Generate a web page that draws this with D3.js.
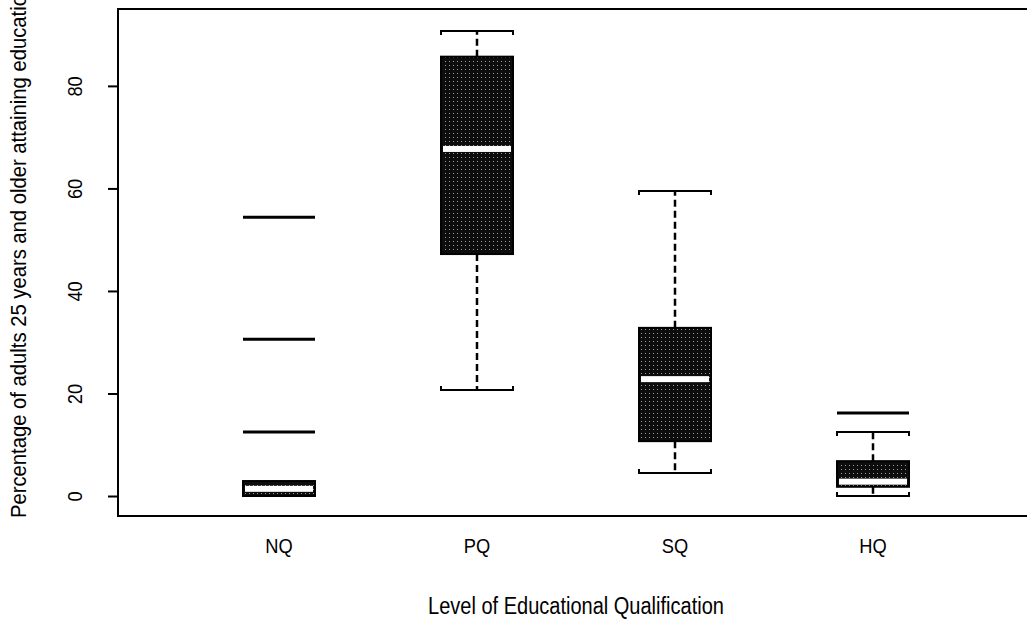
<!DOCTYPE html>
<html>
<head>
<meta charset="utf-8">
<script src="https://cdn.jsdelivr.net/npm/d3@7"></script>
<style>
  body { margin: 0; background: #fff; }
  svg { display: block; }
  text { font-family: "Liberation Sans Narrow", "Arial Narrow", "Liberation Sans", Arial, sans-serif; fill: #000; }
</style>
</head>
<body>
<div id="chart"></div>
<script>
// box statistics (percent)
const categories = ["NQ", "PQ", "SQ", "HQ"];
const lowWhisker = [0, 20.7, 4.5, 0];
const q1 = [0, 47.2, 10.7, 1.8];
const median = [1.4, 67.7, 22.8, 2.8];
const q3 = [2.9, 85.7, 32.8, 6.8];
const highWhisker = [2.9, 90.7, 59.5, 12.5];
const outliers = [[12.5, 30.6, 54.4], [], [], [16.2]];
const yTicks = [0, 20, 40, 60, 80];

const xTitle = "Level of Educational Qualification";
const yTitle = "Percentage of adults 25 years and older attaining education";

const config = {
  width: 1027,
  height: 621,
  frame: { left: 118, top: 9, right: 1045, bottom: 516 },
  boxWidth: 72,
  narrow: 0.87,   // squeeze text, the scan uses a condensed face
  container: d3.select("#chart").append("svg")
};

config.container
  .attr("width", config.width)
  .attr("height", config.height);

const svg = config.container;

const x = d3.scalePoint()
  .domain(categories)
  .range([279, 873]);

const y = d3.scaleLinear()
  .domain([-3.9, 95])
  .range([config.frame.bottom, config.frame.top]);

// dark stippled fill like the scanned boxes
const pat = svg.append("defs").append("pattern")
  .attr("id", "stipple")
  .attr("patternUnits", "userSpaceOnUse")
  .attr("width", 4)
  .attr("height", 4);
pat.append("rect").attr("width", 4).attr("height", 4).attr("fill", "#0d0d0d");
pat.append("rect").attr("x", 1).attr("y", 1).attr("width", 1).attr("height", 1).attr("fill", "#9a9a9a");

const boxes = categories.map((c, i) => ({
  cat: c,
  lo: lowWhisker[i],
  q1: q1[i],
  med: median[i],
  q3: q3[i],
  hi: highWhisker[i],
  out: outliers[i]
}));

const half = config.boxWidth / 2;
const g = svg.append("g");

// whiskers
g.selectAll(".whiskerUp")
  .data(boxes.filter(d => d.hi > d.q3))
  .enter()
  .append("line")
  .attr("x1", d => x(d.cat)).attr("x2", d => x(d.cat))
  .attr("y1", d => y(d.q3)).attr("y2", d => y(d.hi))
  .attr("stroke", "#000").attr("stroke-width", 2.5)
  .attr("stroke-dasharray", "7,4");

g.selectAll(".whiskerDown")
  .data(boxes.filter(d => d.lo < d.q1))
  .enter()
  .append("line")
  .attr("x1", d => x(d.cat)).attr("x2", d => x(d.cat))
  .attr("y1", d => y(d.q1)).attr("y2", d => y(d.lo))
  .attr("stroke", "#000").attr("stroke-width", 2.5)
  .attr("stroke-dasharray", "7,4");

// caps, drawn as small brackets
function capPath(d, v, dir) {
  const cx = x(d.cat), cy = y(v);
  return `M${cx - half},${cy + dir * 4}V${cy}H${cx + half}V${cy + dir * 4}`;
}
g.selectAll(".capUp")
  .data(boxes)
  .enter()
  .append("path")
  .attr("d", d => capPath(d, d.hi, 1))
  .attr("fill", "none").attr("stroke", "#000").attr("stroke-width", 2);
g.selectAll(".capDown")
  .data(boxes)
  .enter()
  .append("path")
  .attr("d", d => capPath(d, d.lo, -1))
  .attr("fill", "none").attr("stroke", "#000").attr("stroke-width", 2);

// boxes
g.selectAll(".box")
  .data(boxes)
  .enter()
  .append("rect")
  .attr("x", d => x(d.cat) - half)
  .attr("y", d => y(d.q3))
  .attr("width", config.boxWidth)
  .attr("height", d => y(d.q1) - y(d.q3))
  .attr("fill", "url(#stipple)")
  .attr("stroke", "#000")
  .attr("stroke-width", 2);

// medians as white bands
g.selectAll(".median")
  .data(boxes)
  .enter()
  .append("rect")
  .attr("x", d => x(d.cat) - half + 2)
  .attr("y", d => y(d.med) - 3)
  .attr("width", config.boxWidth - 4)
  .attr("height", 6)
  .attr("fill", "#fff");

// outliers drawn as horizontal dashes
const outData = [];
boxes.forEach(d => d.out.forEach(v => outData.push({ cat: d.cat, v: v })));
g.selectAll(".outlier")
  .data(outData)
  .enter()
  .append("line")
  .attr("x1", d => x(d.cat) - half).attr("x2", d => x(d.cat) + half)
  .attr("y1", d => y(d.v)).attr("y2", d => y(d.v))
  .attr("stroke", "#000").attr("stroke-width", 3);

// frame
svg.append("rect")
  .attr("x", config.frame.left)
  .attr("y", config.frame.top)
  .attr("width", config.frame.right - config.frame.left)
  .attr("height", config.frame.bottom - config.frame.top)
  .attr("fill", "none")
  .attr("stroke", "#000")
  .attr("stroke-width", 2);

// y axis with rotated labels
const yAxis = svg.append("g")
  .attr("transform", `translate(${config.frame.left},0)`)
  .call(d3.axisLeft(y).tickValues(yTicks).tickSize(10).tickFormat(d3.format("d")));
yAxis.select(".domain").remove();
yAxis.selectAll(".tick line").attr("stroke", "#000").attr("stroke-width", 2);
yAxis.selectAll(".tick text")
  .attr("x", 0).attr("y", 0).attr("dy", null)
  .attr("transform", `translate(-36,0) rotate(-90) scale(${config.narrow},1)`)
  .attr("text-anchor", "middle")
  .style("font-size", "21px")
  .style("font-family", null);

// x labels
svg.append("g")
  .selectAll("text")
  .data(categories)
  .enter()
  .append("text")
  .attr("transform", d => `translate(${x(d)},553) scale(${config.narrow},1)`)
  .attr("text-anchor", "middle")
  .style("font-size", "21px")
  .text(d => d);

svg.append("text")
  .attr("transform", `translate(${(x(categories[0]) + x(categories[3])) / 2},614) scale(${config.narrow},1)`)
  .attr("text-anchor", "middle")
  .style("font-size", "23px")
  .text(xTitle);

svg.append("text")
  .attr("transform", "translate(26,518) rotate(-90) scale(0.92,1)")
  .attr("text-anchor", "start")
  .style("font-size", "22px")
  .text(yTitle);
</script>
</body>
</html>
